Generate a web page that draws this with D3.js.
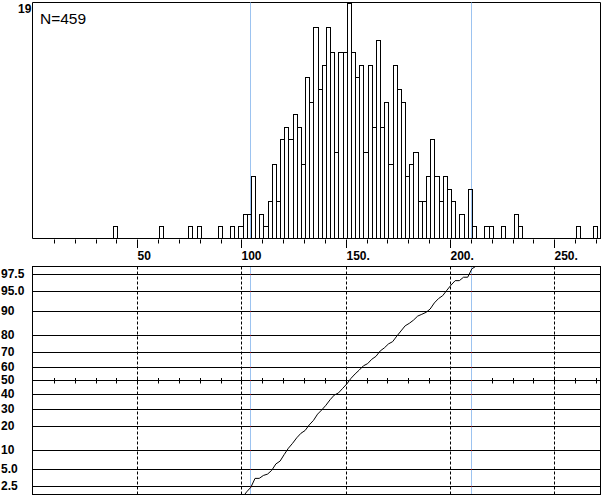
<!DOCTYPE html>
<html>
<head>
<meta charset="utf-8">
<script src="https://cdn.jsdelivr.net/npm/d3@7"></script>
<style>
  html, body { margin: 0; padding: 0; background: #fff; }
  svg { display: block; }
  text { font-family: "Liberation Sans", Arial, sans-serif; fill: #000; }
</style>
</head>
<body>
<svg id="chart" width="606" height="500"></svg>
<script>
// ---------------- data ----------------
const N = 459;
const binWidth = 2;
const binStarts = [38.5,60.5,74.5,78.5,88.5,94.5,98.5,100.5,102.5,104.5,108.5,110.5,112.5,114.5,116.5,118.5,120.5,122.5,124.5,126.5,128.5,130.5,132.5,134.5,136.5,138.5,140.5,142.5,144.5,146.5,148.5,150.5,152.5,154.5,156.5,158.5,160.5,162.5,164.5,166.5,168.5,170.5,172.5,174.5,176.5,178.5,180.5,182.5,184.5,186.5,188.5,190.5,192.5,194.5,196.5,198.5,200.5,204.5,208.5,210.5,216.5,218.5,224.5,230.5,232.5,260.5,268.5];
const binCounts = [1,1,1,1,1,1,1,2,2,5,2,1,3,6,3,8,9,8,10,9,6,13,11,17,12,14,17,15,7,15,15,19,15,13,14,7,14,9,16,9,11,6,14,12,11,5,6,7,3,3,5,8,5,3,5,4,3,2,4,1,1,1,1,2,1,1,1];
const countMax = 19;
const pctLow = 104.2;   // 2.5 % line
const pctHigh = 210.2;  // 97.5 % line
const xMajorTicks = [50, 100, 150, 200, 250];
const xMajorLabels = ["50", "100", "150.", "200.", "250."];
const xMinorTicks = d3.range(10, 271, 10);
const probValues = [2.5, 5, 10, 20, 30, 40, 50, 60, 70, 80, 90, 95, 97.5];
const probLabels = ["2.5", "5.0", "10", "20", "30", "40", "50", "60", "70", "80", "90", "95.0", "97.5"];

// ---------------- helpers ----------------
function invNorm(p) {
  const a = [-3.969683028665376e+01, 2.209460984245205e+02, -2.759285104469687e+02, 1.383577518672690e+02, -3.066479806614716e+01, 2.506628277459239e+00];
  const b = [-5.447609879822406e+01, 1.615858368580409e+02, -1.556989798598866e+02, 6.680131188771972e+01, -1.328068155288572e+01];
  const c = [-7.784894002430293e-03, -3.223964580411365e-01, -2.400758277161838e+00, -2.549732539343734e+00, 4.374664141464968e+00, 2.938163982698783e+00];
  const d = [7.784695709041462e-03, 3.224671290700398e-01, 2.445134137142996e+00, 3.754408661907416e+00];
  const pl = 0.02425, ph = 1 - pl;
  let q, r;
  if (p < pl) {
    q = Math.sqrt(-2 * Math.log(p));
    return (((((c[0]*q+c[1])*q+c[2])*q+c[3])*q+c[4])*q+c[5]) / ((((d[0]*q+d[1])*q+d[2])*q+d[3])*q+1);
  } else if (p <= ph) {
    q = p - 0.5; r = q * q;
    return (((((a[0]*r+a[1])*r+a[2])*r+a[3])*r+a[4])*r+a[5])*q / (((((b[0]*r+b[1])*r+b[2])*r+b[3])*r+b[4])*r+1);
  } else {
    q = Math.sqrt(-2 * Math.log(1 - p));
    return -(((((c[0]*q+c[1])*q+c[2])*q+c[3])*q+c[4])*q+c[5]) / ((((d[0]*q+d[1])*q+d[2])*q+d[3])*q+1);
  }
}
const px = v => Math.round(v) + 0.5;

// ---------------- layout ----------------
const svg = d3.select("#chart");
const L = 32.5, R = 600.5;
const topT = 2.5, topB = 238.5;
const botT = 266.5, botB = 494.5;

const x = d3.scaleLinear().domain([0, 272.2]).range([33, 600.5]);
const yH = d3.scaleLinear().domain([0, countMax]).range([238.5, 2.5]);
const zScale = d3.scaleLinear().domain([-2.11, 2.11]).range([494.4, 266.2]);
const yP = p => zScale(invNorm(p / 100));

const blue = "#9cc3f0";

// ---------------- top panel: histogram ----------------
const gTop = svg.append("g");
gTop.append("path")
  .attr("d", `M${L},${topB}V${topT}H${R}V${topB}`)
  .attr("fill", "none").attr("stroke", "#000").attr("stroke-width", 1);

[pctLow, pctHigh].forEach(v => {
  gTop.append("line")
    .attr("x1", px(x(v))).attr("x2", px(x(v)))
    .attr("y1", topT).attr("y2", topB)
    .attr("stroke", blue).attr("stroke-width", 1);
});

const bins = binStarts.map((s, i) => ({ s, c: binCounts[i] }));
gTop.selectAll("rect.bar").data(bins).enter().append("rect")
  .attr("class", "bar")
  .attr("x", d => px(x(d.s)))
  .attr("width", d => px(x(d.s + binWidth)) - px(x(d.s)))
  .attr("y", d => px(yH(d.c)))
  .attr("height", d => topB - px(yH(d.c)))
  .attr("fill", "none").attr("stroke", "#000").attr("stroke-width", 1)
  .attr("shape-rendering", "crispEdges");

// bottom axis line
gTop.append("line").attr("x1", L).attr("x2", R + 0.5).attr("y1", topB).attr("y2", topB)
  .attr("stroke", "#000").attr("stroke-width", 1);

// ticks
gTop.selectAll("line.minor").data(xMinorTicks).enter().append("line")
  .attr("x1", d => px(x(d))).attr("x2", d => px(x(d)))
  .attr("y1", topB + 1).attr("y2", d => xMajorTicks.includes(d) ? topB + 9.5 : topB + 5)
  .attr("stroke", "#000").attr("stroke-width", 1);

gTop.append("text").attr("x", 18).attr("y", 12.8)
  .attr("font-size", "12px").attr("font-weight", "bold").text(String(countMax));
gTop.append("text").attr("x", 40).attr("y", 24)
  .attr("font-size", "15.5px").text("N=" + N);

// tick labels between panels
svg.selectAll("text.xl").data(xMajorTicks).enter().append("text")
  .attr("class", "xl")
  .attr("x", d => Math.round(x(d)) + 0.5)
  .attr("y", 259.5)
  .attr("font-size", "12px").attr("font-weight", "bold")
  .text((d, i) => xMajorLabels[i]);

// ---------------- bottom panel: normal probability plot ----------------
const gBot = svg.append("g");
gBot.append("rect").attr("x", L).attr("y", botT).attr("width", R - L).attr("height", botB - botT)
  .attr("fill", "none").attr("stroke", "#000").attr("stroke-width", 1);

// horizontal grid lines
gBot.selectAll("line.hg").data(probValues).enter().append("line")
  .attr("x1", L).attr("x2", R)
  .attr("y1", d => px(yP(d))).attr("y2", d => px(yP(d)))
  .attr("stroke", "#000").attr("stroke-width", 1);

// ticks on 50% line
gBot.selectAll("line.t50").data(xMinorTicks).enter().append("line")
  .attr("x1", d => px(x(d))).attr("x2", d => px(x(d)))
  .attr("y1", px(yP(50)) - 2.5).attr("y2", px(yP(50)) + 3)
  .attr("stroke", "#000").attr("stroke-width", 1);

// dashed verticals
gBot.selectAll("line.dv").data(xMajorTicks).enter().append("line")
  .attr("x1", d => px(x(d))).attr("x2", d => px(x(d)))
  .attr("y1", botT).attr("y2", botB)
  .attr("stroke", "#000").attr("stroke-width", 1).attr("stroke-dasharray", "3,2");

// blue percentile lines with red marks at grid crossings
[pctLow, pctHigh].forEach(v => {
  const xv = px(x(v));
  gBot.append("line").attr("x1", xv).attr("x2", xv).attr("y1", botT + 0.5).attr("y2", botB - 0.5)
    .attr("stroke", blue).attr("stroke-width", 1);
  probValues.forEach(p => {
    gBot.append("rect").attr("x", xv - 0.5).attr("y", px(yP(p)) - 0.5)
      .attr("width", 1).attr("height", 1).attr("fill", "#b00000");
  });
});

// cumulative curve
const pts = [];
let cum = 0;
bins.forEach(b => {
  const p0 = cum / N;
  cum += b.c;
  const p1 = cum / N;
  if (p0 > 0 && p0 < 1) pts.push([b.s, p0 * 100]);
  if (p1 > 0 && p1 < 1) pts.push([b.s + binWidth, p1 * 100]);
});
svg.append("clipPath").attr("id", "clipBot").append("rect")
  .attr("x", L + 0.5).attr("y", botT).attr("width", R - L - 1).attr("height", botB - botT);
gBot.append("path")
  .datum(pts)
  .attr("clip-path", "url(#clipBot)")
  .attr("d", d3.line().x(d => x(d[0])).y(d => yP(d[1])))
  .attr("fill", "none").attr("stroke", "#000").attr("stroke-width", 1);

// probability labels
gBot.selectAll("text.pl").data(probValues).enter().append("text")
  .attr("x", 1).attr("y", d => Math.round(yP(d)) + 4)
  .attr("font-size", "12px").attr("font-weight", "bold")
  .text((d, i) => probLabels[i]);
</script>
</body>
</html>
